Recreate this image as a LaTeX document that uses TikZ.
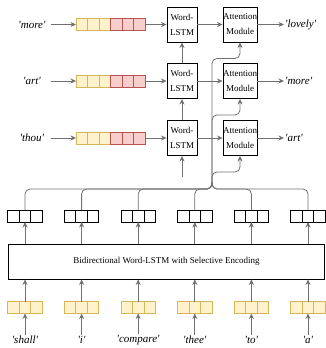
\documentclass[tikz,border=0pt]{standalone}
\usepackage{fontspec}
\setmainfont{Liberation Serif}
\usepackage{tikz}
\usetikzlibrary{arrows.meta,calc,positioning}

\definecolor{linegray}{HTML}{707070}
\definecolor{yfill}{HTML}{FFF2CC}
\definecolor{ydraw}{HTML}{D6B656}
\definecolor{rfill}{HTML}{F8CECC}
\definecolor{rdraw}{HTML}{B85450}
\newcommand{\qw}[1]{\textit{\textquotesingle#1\textquotesingle}}

\begin{document}
\begin{tikzpicture}[x=1pt, y=-1pt, font=\fontsize{9}{10}\selectfont,
	cell/.style={minimum width=11.5pt, minimum height=12pt, inner sep=0pt, outer sep=0pt, line width=0.8pt},
	ycell/.style={cell, draw=ydraw, fill=yfill},
	rcell/.style={cell, draw=rdraw, fill=rfill},
	wcell/.style={cell, draw=black, fill=white},
	unit/.style={draw, line width=0.9pt, align=center, inner sep=0pt, minimum height=35pt, font=\fontsize{9}{15}\selectfont},
	token/.style={inner sep=1pt, font=\fontsize{11}{12}\selectfont},
	arr/.style={draw=linegray, line width=0.8pt, -{Stealth[length=5.5pt, width=5pt]}},
	bus/.style={draw=linegray, line width=0.8pt, rounded corners=5pt}]

	\useasboundingbox (0,0) rectangle (325,348);

	% decoder rows
	\foreach \r/\y/\inw/\outw in {1/24.5/more/lovely, 2/81/art/more, 3/138/thou/art}{
		\node[token, minimum width=38pt, inner sep=0pt] (src\r) at (32,\y) {\qw{\inw}};
		\foreach \k in {1,2,3} \node[ycell] (c\r-\k) at (70.25+11.5*\k,\y) {};
		\foreach \k in {4,5,6} \node[rcell] (c\r-\k) at (70.25+11.5*\k,\y) {};
		\node[unit, minimum width=30pt] (lstm\r) at (182,\y) {Word-\\LSTM};
		\node[unit, minimum width=34pt] (att\r) at (240,\y) {Attention\\Module};
		\node[token, anchor=west] (tgt\r) at (284,\y) {\qw{\outw}};

		\draw[arr] (src\r) -- (c\r-1);
		\draw[arr] (c\r-6) -- (lstm\r);
		\draw[arr] (lstm\r) -- (att\r);
		\draw[arr] (att\r) -- (tgt\r);
	}
	\coordinate (lstm0) at (182,177);
	\draw[arr] (lstm0) -- (lstm3);
	\draw[arr] (lstm3) -- (lstm2);
	\draw[arr] (lstm2) -- (lstm1);

	% encoder
	\node[unit, minimum width=316pt] (enc) at (166.5,261.5) {Bidirectional Word-LSTM with Selective Encoding};
	\coordinate (hub) at (212,185);

	\foreach \i/\w in {1/shall, 2/i, 3/compare, 4/thee, 5/to, 6/a}{
		\pgfmathsetmacro\cx{25+56.6*(\i-1)}
		\node[token] (w\i) at (\cx,340) {\qw{\w}};
		\node[ycell] (ie\i) at (\cx,307.5) {};
		\node[ycell, left=0pt of ie\i] (iel\i) {};
		\node[ycell, right=0pt of ie\i] (ier\i) {};
		\node[wcell] (oe\i) at (\cx,216) {};
		\node[wcell, left=0pt of oe\i] (oel\i) {};
		\node[wcell, right=0pt of oe\i] (oer\i) {};

		\draw[arr] (w\i) -- (ie\i);
		\draw[arr] (ie\i) -- (ie\i |- enc.south);
		\draw[arr] (oe\i |- enc.north) -- (oe\i);
		\draw[bus] (oe\i) |- ($(hub)+(0,4)$) -- (hub);
	}

	% attention inputs
	\foreach \r in {1,2,3}
		\draw[arr, rounded corners=5pt] (hub) |- ($(att\r.south)+(0,16)$) -- (att\r);

\end{tikzpicture}
\end{document}
